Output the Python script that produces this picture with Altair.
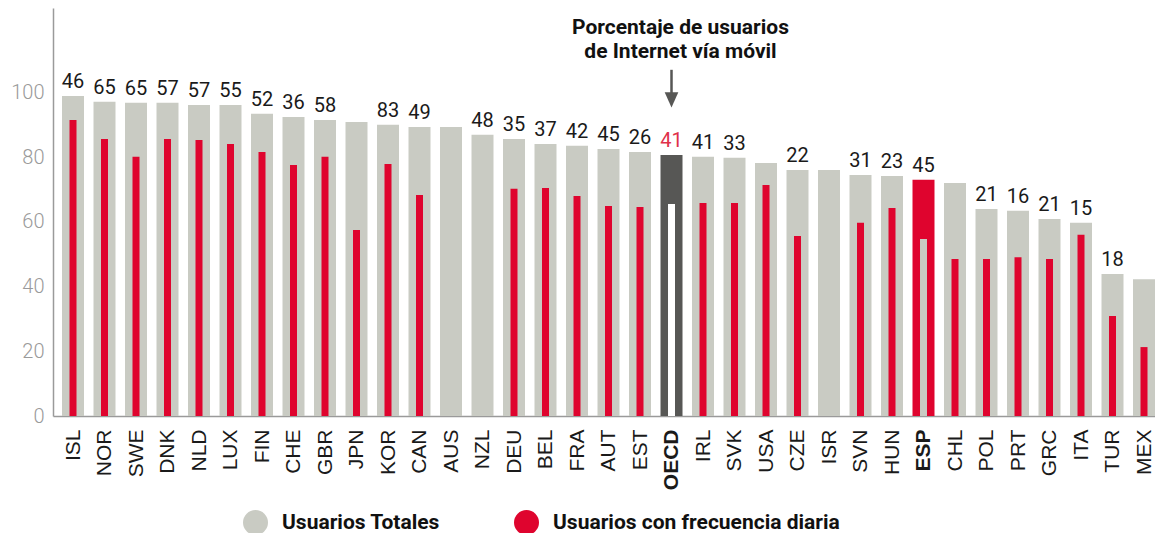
import altair as alt
import pandas as pd

countries = ["ISL", "NOR", "SWE", "DNK", "NLD", "LUX", "FIN", "CHE", "GBR", "JPN",
             "KOR", "CAN", "AUS", "NZL", "DEU", "BEL", "FRA", "AUT", "EST", "OECD",
             "IRL", "SVK", "USA", "CZE", "ISR", "SVN", "HUN", "ESP", "CHL", "POL",
             "PRT", "GRC", "ITA", "TUR", "MEX"]
total = [98.9, 97.1, 96.8, 96.8, 96.1, 96.1, 93.4, 92.4, 91.5, 90.9,
         90.0, 89.3, 89.3, 86.9, 85.6, 84.1, 83.5, 82.5, 81.6, 80.7,
         80.1, 79.8, 78.2, 76.0, 76.0, 74.5, 74.2, 73.0, 72.0, 64.0,
         63.4, 60.9, 59.7, 43.9, 42.3]
daily = [91.5, 85.6, 80.1, 85.6, 85.3, 84.1, 81.6, 77.6, 80.1, 57.5,
         77.9, 68.3, None, None, 70.2, 70.5, 68.0, 64.9, 64.6, 65.5,
         65.8, 65.8, 71.4, 55.6, None, 59.7, 64.3, 54.7, 48.5, 48.5,
         49.1, 48.5, 56.0, 30.9, 21.3]
mobile = [46, 65, 65, 57, 57, 55, 52, 36, 58, None,
          83, 49, None, 48, 35, 37, 42, 45, 26, 41,
          41, 33, None, 22, None, 31, 23, 45, None, 21,
          16, 21, 15, 18, None]

TOT = "Usuarios Totales"
DAY = "Usuarios con frecuencia diaria"
series_names = [TOT, DAY]
annotation = "Porcentaje de usuarios\nde Internet vía móvil"

GRAY = "#c9cbc3"
RED = "#df042e"
DARK = "#575755"

df = pd.DataFrame({
    "idx": list(range(len(countries))),
    "country": countries,
    "total": total,
    "daily": daily,
    "mobile": mobile,
})
df["tot_series"] = [DAY if c == "ESP" else TOT for c in countries]
df["day_series"] = [TOT if c == "ESP" else DAY for c in countries]

i_oecd = countries.index("OECD")
i_esp = countries.index("ESP")
label_expr = "[" + ",".join("'" + c + "'" for c in countries) + "][datum.value]"

x_scale = alt.Scale(domain=[-0.635, 34.349], nice=False, zero=False, padding=0)
x_enc = alt.X(
    "idx:Q",
    scale=x_scale,
    axis=alt.Axis(
        title=None, values=list(range(len(countries))), labelExpr=label_expr,
        labelAngle=270, ticks=False, labelPadding=13, grid=False,
        labelOverlap=False, labelFlush=False,
        labelFont="Liberation Sans Narrow, Liberation Sans", labelFontSize=21,
        labelColor="#1a1a1a",
        labelFontWeight=alt.condition(
            f"datum.value == {i_oecd} || datum.value == {i_esp}",
            alt.value("bold"), alt.value("normal")),
        domainColor="#9a9a9a", domainWidth=1.5,
    ),
)
y_scale = alt.Scale(domain=[0, 126.1], nice=False, zero=True)
y_axis = alt.Axis(
    title=None, values=[0, 20, 40, 60, 80, 100], grid=False, ticks=False,
    domainColor="#9a9a9a", domainWidth=1.5, labelColor="#9a9a9a",
    labelFont="Roboto", labelFontWeight=300, labelFontSize=20, labelPadding=9,
    labelFlush=False,
)

color_scale = alt.Scale(domain=series_names, range=[GRAY, RED])

base = alt.Chart(df)

tot_bars = base.transform_filter("datum.country != 'OECD'").mark_bar(size=22, clip=False).encode(
    x=x_enc,
    y=alt.Y("total:Q", scale=y_scale, axis=y_axis),
    color=alt.Color("tot_series:N", scale=color_scale, title=None,
                    legend=alt.Legend(
                        orient="none", legendX=190, legendY=502, direction="horizontal",
                        symbolType="circle", symbolSize=625, symbolStrokeWidth=0,
                        labelFont="Roboto", labelFontSize=21, labelFontWeight="bold",
                        labelColor="#111111", labelOffset=14, columnPadding=74,
                        padding=0, labelLimit=400, title=None,
                    )),
)
day_bars = base.transform_filter(
    "datum.country != 'OECD' && isValid(datum.daily)").mark_bar(size=7, clip=False).encode(
    x=x_enc,
    y=alt.Y("daily:Q", scale=y_scale),
    color=alt.Color("day_series:N", scale=color_scale, title=None),
)
oecd_tot = base.transform_filter("datum.country == 'OECD'").mark_bar(size=22, color=DARK).encode(
    x=x_enc, y=alt.Y("total:Q", scale=y_scale),
)
oecd_day = base.transform_filter("datum.country == 'OECD'").mark_bar(size=7, color="white").encode(
    x=x_enc, y=alt.Y("daily:Q", scale=y_scale),
)
labels = base.transform_filter("isValid(datum.mobile)").mark_text(
    baseline="alphabetic", dy=-8, font="Roboto", fontSize=20,
).encode(
    x=x_enc,
    y=alt.Y("total:Q", scale=y_scale),
    text=alt.Text("mobile:Q", format="d"),
    color=alt.condition("datum.country == 'OECD'", alt.value("#e0304a"), alt.value("#1a1a1a")),
)

ann_df = pd.DataFrame({"idx": [i_oecd], "label": [annotation],
                       "ty": [119.9], "a1": [107.0], "a2": [99.0], "ah": [97.7]})
ann = alt.Chart(ann_df)
ann_text = ann.mark_text(
    lineBreak="\n", lineHeight=24, font="Roboto", fontSize=21, fontWeight="bold",
    color="#111111", dx=9, baseline="middle", align="center",
).encode(x=x_enc, y=alt.Y("ty:Q", scale=y_scale), text="label:N")
arrow_line = ann.mark_rule(color=DARK, strokeWidth=2.5).encode(
    x=x_enc, y=alt.Y("a1:Q", scale=y_scale), y2="a2:Q")
arrow_head = ann.mark_point(shape="M-0.9,-1L0.9,-1L0,1Z", filled=True, size=230,
                            color=DARK, opacity=1).encode(
    x=x_enc, y=alt.Y("ah:Q", scale=y_scale))

chart = alt.layer(
    tot_bars, day_bars, oecd_tot, oecd_day, labels, ann_text, arrow_line, arrow_head
).properties(
    width=1102, height=408,
    padding={"left": 45, "top": 0, "right": 0, "bottom": 117},
    autosize="none",
).configure_view(stroke=None)

chart.save("out.html", embed_options={"renderer": "svg", "actions": False})
